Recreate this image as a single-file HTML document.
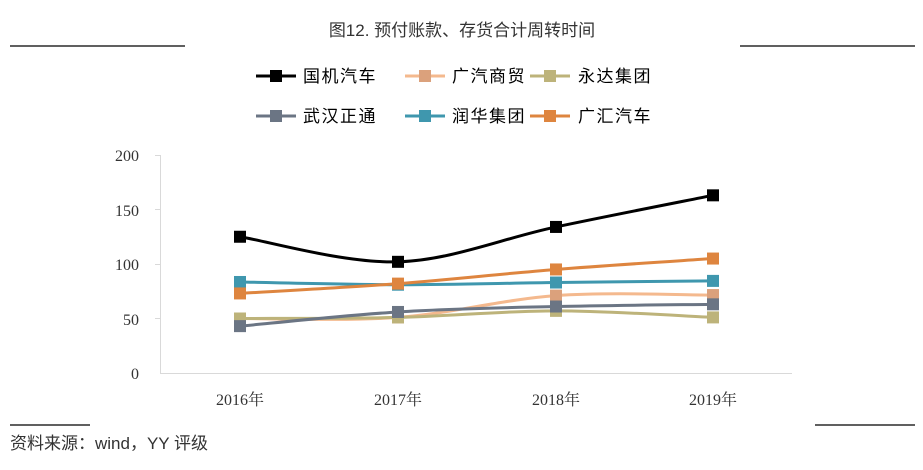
<!DOCTYPE html>
<html><head><meta charset="utf-8"><style>
body{margin:0;background:#fff;width:923px;height:470px;overflow:hidden}
svg{display:block}
</style></head><body>
<svg id="s" width="923" height="470" xmlns="http://www.w3.org/2000/svg">
<text x="462" y="36" text-anchor="middle" font-family="Liberation Sans,'Noto Sans CJK SC',sans-serif" font-size="17" fill="#333">图12. 预付账款、存货合计周转时间</text>
<line x1="10" y1="46" x2="185" y2="46" stroke="#000" stroke-width="1.2"/>
<line x1="740" y1="46" x2="915" y2="46" stroke="#000" stroke-width="1.2"/>
<line x1="10" y1="425" x2="90" y2="425" stroke="#000" stroke-width="1.2"/>
<line x1="815" y1="425" x2="915" y2="425" stroke="#000" stroke-width="1.2"/>
<text x="10" y="449" font-family="Liberation Sans,'Noto Sans CJK SC',sans-serif" font-size="17" fill="#333">资料来源：wind，YY 评级</text>
<g font-family="'Noto Sans CJK SC',sans-serif" font-size="17" fill="#000" letter-spacing="1.5">
<text x="303" y="82">国机汽车</text><text x="452" y="82">广汽商贸</text><text x="578" y="82">永达集团</text>
<text x="303" y="122">武汉正通</text><text x="452" y="122">润华集团</text><text x="578" y="122">广汇汽车</text>
</g>
<g font-family="Liberation Serif,'Noto Serif CJK SC',serif" font-size="16" fill="#333" text-anchor="end">
<text x="139" y="161">200</text><text x="139" y="216">150</text><text x="139" y="270">100</text><text x="139" y="325">50</text><text x="139" y="379">0</text>
</g>
<g font-family="Liberation Serif,'Noto Serif CJK SC',serif" font-size="16" fill="#333" text-anchor="middle">
<text x="240" y="405">2016年</text><text x="398" y="405">2017年</text><text x="556" y="405">2018年</text><text x="713" y="405">2019年</text>
</g>
<line x1="160.5" y1="155" x2="160.5" y2="373" stroke="#d9d9d9"/>
<line x1="160" y1="373.5" x2="792" y2="373.5" stroke="#d9d9d9"/>
<g stroke="#d9d9d9"><line x1="155" y1="155.5" x2="160" y2="155.5"/><line x1="155" y1="209.5" x2="160" y2="209.5"/><line x1="155" y1="264.5" x2="160" y2="264.5"/><line x1="155" y1="318.5" x2="160" y2="318.5"/></g>
<g id="series"></g>
</svg>
<script>
var xs=[240,398,556,713];
function Y(v){return 373-v*1.09;}
var S=[
["#f4b98e","#dba17c",[50,51,71,71.5]],
["#bdb37a","#bdb37a",[50,51,57,51]],
["#6b7584","#6b7584",[43,56,61,63]],
["#3f97ae","#3f97ae",[83.5,81,83,84.5]],
["#de853f","#de853f",[73,82,95,105]],
["#000","#000",[125,102,134,163]]
];
var leg=[["#000",256,76],["#f4b98e",405,76,"#dba17c"],["#bdb37a",530,76],["#6b7584",256,116],["#3f97ae",405,116],["#de853f",530,116]];
var g=document.getElementById('series'),h='';
S.forEach(function(s){
 var p=s[2].map(function(v,i){return [xs[i],Y(v)];});
 var d='M'+p[0][0]+','+p[0][1];
 for(var i=0;i<3;i++){var p0=p[Math.max(i-1,0)],p1=p[i],p2=p[i+1],p3=p[Math.min(i+2,3)];var t=0.17;
 d+=' C'+(p1[0]+(p2[0]-p0[0])*t)+','+(p1[1]+(p2[1]-p0[1])*t)+' '+(p2[0]-(p3[0]-p1[0])*t)+','+(p2[1]-(p3[1]-p1[1])*t)+' '+p2[0]+','+p2[1];}
 h+='<path d="'+d+'" fill="none" stroke="'+s[0]+'" stroke-width="3"/>';
 p.forEach(function(q){h+='<rect x="'+(q[0]-6)+'" y="'+(q[1]-6)+'" width="12" height="12" fill="'+s[1]+'"/>';});
});
leg.forEach(function(l){h+='<line x1="'+l[1]+'" y1="'+l[2]+'" x2="'+(l[1]+40)+'" y2="'+l[2]+'" stroke="'+l[0]+'" stroke-width="3"/><rect x="'+(l[1]+14)+'" y="'+(l[2]-6)+'" width="12" height="12" fill="'+(l[3]||l[0])+'"/>';});
g.innerHTML=h;
</script>
</body></html>
